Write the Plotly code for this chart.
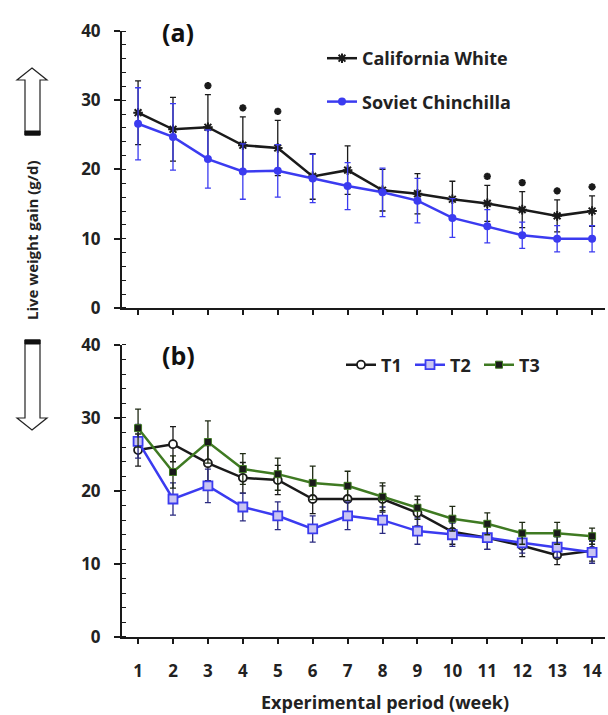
import plotly.graph_objects as go

weeks = list(range(1, 15))

# Panel (a)
cw_mean = [28.2, 25.8, 26.1, 23.5, 23.1, 19.0, 19.9, 17.0, 16.5, 15.7, 15.1, 14.2, 13.3, 14.0]
cw_sd = [4.6, 4.6, 4.7, 4.1, 4.0, 3.3, 3.5, 3.0, 2.9, 2.6, 2.6, 2.6, 2.3, 2.2]
sc_mean = [26.6, 24.7, 21.5, 19.7, 19.8, 18.7, 17.6, 16.7, 15.5, 13.0, 11.8, 10.5, 10.0, 10.0]
sc_sd = [5.2, 4.8, 4.2, 4.0, 3.8, 3.5, 3.4, 3.5, 3.2, 2.8, 2.4, 1.9, 1.9, 1.9]
sig_weeks = [3, 4, 5, 11, 12, 13, 14]

# Panel (b)
t1_mean = [25.6, 26.4, 23.8, 21.8, 21.5, 18.9, 18.9, 18.9, 17.0, 14.4, 13.6, 12.5, 11.2, 11.8]
t1_sd = [2.2, 2.4, 2.4, 2.1, 2.0, 2.0, 1.9, 1.8, 1.8, 1.7, 1.6, 1.5, 1.3, 1.4]
t2_mean = [26.8, 18.9, 20.7, 17.8, 16.6, 14.8, 16.6, 16.0, 14.5, 14.0, 13.6, 12.9, 12.3, 11.6]
t2_sd = [2.3, 2.2, 2.3, 1.9, 1.9, 1.8, 1.9, 1.8, 1.8, 1.6, 1.6, 1.4, 1.4, 1.5]
t3_mean = [28.6, 22.6, 26.7, 23.0, 22.3, 21.1, 20.7, 19.2, 17.7, 16.2, 15.5, 14.2, 14.2, 13.8]
t3_sd = [2.6, 2.2, 2.9, 2.1, 2.2, 2.3, 2.0, 1.9, 1.6, 1.7, 1.5, 1.5, 1.5, 1.1]

FONT = "Open Sans"
BLACK = "#1a1a1a"
BLUE = "#3b3bf0"
GREEN = "#3f7a22"

W, H = 608, 715
ML, MR, MT, MB = 122, 3, 31, 78
PW, PH = W - ML - MR, H - MT - MB


def px(x, y):
    return (x - ML) / PW, (H - MB - y) / PH


fig = go.Figure()

# ---- panel a ----
fig.add_trace(go.Scatter(
    x=weeks, y=cw_mean, name="California White", mode="lines+markers",
    line=dict(color=BLACK, width=2.5),
    marker=dict(symbol="asterisk-open", size=8, color=BLACK, line=dict(color=BLACK, width=2)),
    error_y=dict(type="data", array=cw_sd, color=BLACK, thickness=1.3, width=3),
    xaxis="x", yaxis="y", legend="legend", legendgroup="a1"))
fig.add_trace(go.Scatter(
    x=weeks, y=sc_mean, name="Soviet Chinchilla", mode="lines+markers",
    line=dict(color=BLUE, width=2.5),
    marker=dict(symbol="circle", size=8, color=BLUE),
    error_y=dict(type="data", array=sc_sd, color=BLUE, thickness=1.3, width=3),
    xaxis="x", yaxis="y", legend="legend", legendgroup="a2"))
sig_y = [cw_mean[w - 1] + cw_sd[w - 1] + 1.3 for w in sig_weeks]
fig.add_trace(go.Scatter(
    x=sig_weeks, y=sig_y, mode="markers", showlegend=False,
    marker=dict(symbol="asterisk-open", size=6, color=BLACK,
                line=dict(color=BLACK, width=2.2)),
    xaxis="x", yaxis="y"))

# ---- panel b ----
fig.add_trace(go.Scatter(
    x=weeks, y=t1_mean, name="T1", mode="lines+markers",
    line=dict(color=BLACK, width=2.5),
    marker=dict(symbol="circle", size=8, color="white", line=dict(color=BLACK, width=1.8)),
    error_y=dict(type="data", array=t1_sd, color=BLACK, thickness=1.3, width=3),
    xaxis="x2", yaxis="y2", legend="legend2"))
fig.add_trace(go.Scatter(
    x=weeks, y=t2_mean, name="T2", mode="lines+markers",
    line=dict(color=BLUE, width=2.5),
    marker=dict(symbol="square", size=9, color="#c9c4f2", line=dict(color=BLUE, width=1.8)),
    error_y=dict(type="data", array=t2_sd, color="#2a2a80", thickness=1.3, width=3),
    xaxis="x2", yaxis="y2", legend="legend2"))
fig.add_trace(go.Scatter(
    x=weeks, y=t3_mean, name="T3", mode="lines+markers",
    line=dict(color=GREEN, width=2.5),
    marker=dict(symbol="square", size=7, color="#1a1a1a", line=dict(color=GREEN, width=1)),
    error_y=dict(type="data", array=t3_sd, color="#1f2a14", thickness=1.3, width=3),
    xaxis="x2", yaxis="y2", legend="legend2"))

tickfont = dict(family=FONT, size=17, color="#222222", weight="bold")
xcommon = dict(range=[0.54, 14.37], tickmode="array", tickvals=weeks,
               ticks="outside", ticklen=5, tickwidth=1.5, tickcolor=BLACK,
               showline=True, linecolor=BLACK, linewidth=2, showgrid=False,
               zeroline=False, tickfont=tickfont, fixedrange=True)
ycommon = dict(range=[0, 40], tickvals=[0, 10, 20, 30, 40],
               ticks="outside", ticklen=6, tickwidth=1.5, tickcolor=BLACK,
               showline=True, linecolor=BLACK, linewidth=2, showgrid=False,
               zeroline=False, tickfont=tickfont, ticklabelstandoff=10,
               minor=dict(dtick=2, ticks="inside", ticklen=4, tickwidth=1.2,
                          tickcolor=BLACK, showgrid=False))

LEGFONT = dict(family=FONT, size=18, color="#222222", weight="bold")
fig.update_layout(
    width=W, height=H, margin=dict(l=ML, r=MR, t=MT, b=MB),
    paper_bgcolor="white", plot_bgcolor="white",
    xaxis=dict(anchor="y", showticklabels=False, **xcommon),
    yaxis=dict(domain=[0.543, 1], anchor="x", **ycommon),
    xaxis2=dict(anchor="y2", showticklabels=True, ticklabelstandoff=13, **xcommon),
    yaxis2=dict(domain=[0, 0.482], anchor="x2", **ycommon),
    legend=dict(x=px(322, 0)[0], y=px(0, 40)[1], xanchor="left", yanchor="top",
                bgcolor="rgba(0,0,0,0)", itemwidth=30, tracegroupgap=17,
                font=LEGFONT),
    legend2=dict(x=px(341, 0)[0], y=px(0, 365)[1], xanchor="left", yanchor="middle",
                 orientation="h", bgcolor="rgba(0,0,0,0)", itemwidth=30,
                 entrywidth=24, entrywidthmode="pixels", font=LEGFONT),
)

annots = []
annots.append(dict(text="(a)", x=px(178, 0)[0], y=px(0, 32)[1], xref="paper", yref="paper",
                   xanchor="center", yanchor="middle", showarrow=False,
                   font=dict(family=FONT, size=25, color="#111", weight="bold")))
annots.append(dict(text="(b)", x=px(178, 0)[0], y=px(0, 355)[1], xref="paper", yref="paper",
                   xanchor="center", yanchor="middle", showarrow=False,
                   font=dict(family=FONT, size=25, color="#111", weight="bold")))
annots.append(dict(text="Live weight gain (g/d)", x=px(32, 0)[0], y=px(0, 240)[1],
                   xref="paper", yref="paper", showarrow=False, textangle=-90,
                   xanchor="center", yanchor="middle",
                   font=dict(family=FONT, size=15, color="#222", weight="bold")))
annots.append(dict(text="Experimental period (week)", x=px(385, 0)[0], y=px(0, 702)[1],
                   xref="paper", yref="paper", showarrow=False,
                   xanchor="center", yanchor="middle",
                   font=dict(family=FONT, size=18, color="#222", weight="bold")))
fig.update_layout(annotations=annots)


def path(points):
    s = ""
    for i, (x, y) in enumerate(points):
        a, b = px(x, y)
        s += ("M" if i == 0 else "L") + f"{a:.5f},{b:.5f} "
    return s + "Z"


shapes = []
up = [(32, 68), (47, 80), (40, 80), (40, 135), (25, 135), (25, 80), (17, 80)]
down = [(32, 430), (47, 418), (40, 418), (40, 340), (25, 340), (25, 418), (17, 418)]
for pts in (up, down):
    shapes.append(dict(type="path", path=path(pts), xref="paper", yref="paper",
                       line=dict(color="#222", width=1.2), fillcolor="white"))
for (y0, y1) in ((131, 135), (340, 344)):
    shapes.append(dict(type="path", path=path([(25, y0), (40, y0), (40, y1), (25, y1)]),
                       xref="paper", yref="paper", line=dict(color="#111", width=1),
                       fillcolor="#111"))
fig.update_layout(shapes=shapes)

fig.write_html("out.html")
